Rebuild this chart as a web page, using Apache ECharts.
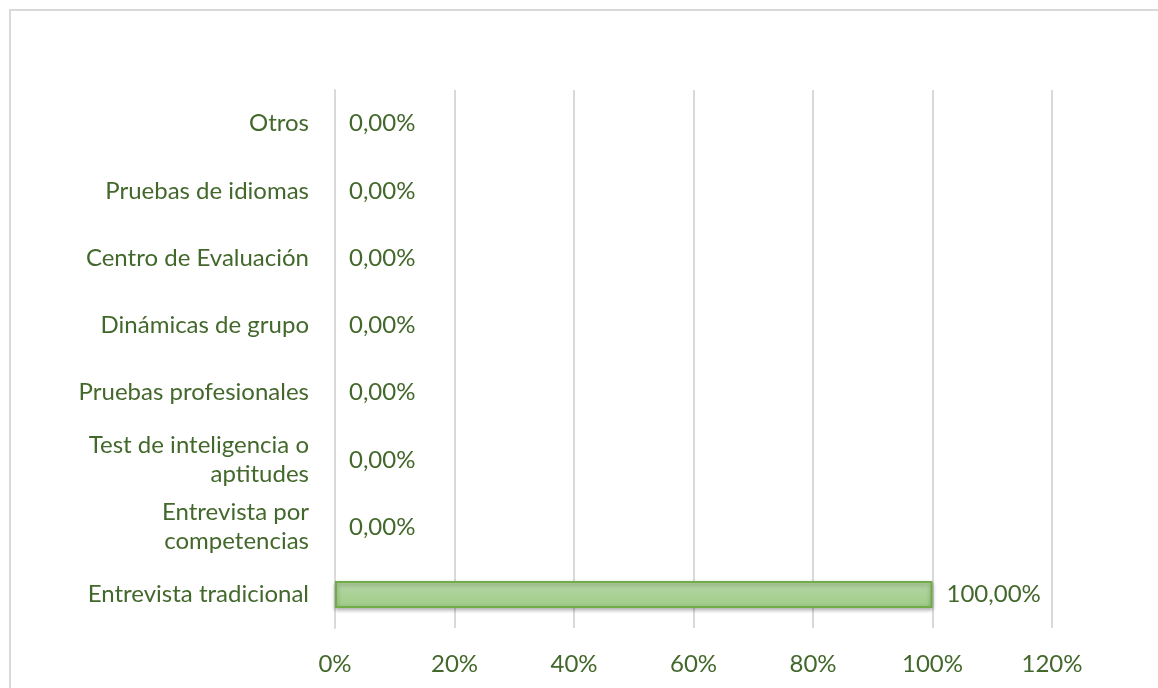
<!DOCTYPE html>
<html><head><meta charset="utf-8">
<script src="https://cdn.jsdelivr.net/npm/echarts@6/dist/echarts.min.js"></script>
<style>html,body{margin:0;padding:0;background:#fff;overflow:hidden}#frame{position:absolute;left:9px;top:9px;width:1300px;height:800px;border:2px solid #d9d9d9;box-sizing:border-box}#c{width:1158px;height:688px;position:absolute;left:0;top:0}</style>
</head><body><div id="frame"></div><div id="c"></div>
<script>
const categories = ['Entrevista tradicional','Entrevista por\ncompetencias','Test de inteligencia o\naptitudes','Pruebas profesionales','Dinámicas de grupo','Centro de Evaluación','Pruebas de idiomas','Otros'];
const values = [100, 0, 0, 0, 0, 0, 0, 0];
const tickLabels = ['0%','20%','40%','60%','80%','100%','120%'];
const txt = '#43682b';
const fam = 'Lato';
const chart = echarts.init(document.getElementById('c'));
chart.setOption({
  animation:false,
  grid:{left:335,right:106,top:90,bottom:60},
  xAxis:{type:'value',min:0,max:120,interval:20,
    axisLabel:{formatter:(v)=>tickLabels[v/20],color:txt,fontFamily:fam,fontSize:24,margin:24},
    splitLine:{lineStyle:{color:'#d9d9d9',width:2}},axisLine:{show:false},axisTick:{show:false}},
  yAxis:{type:'category',data:categories,
    axisLabel:{color:txt,fontFamily:fam,fontSize:24,lineHeight:29,margin:26,align:'right'},
    axisLine:{lineStyle:{color:'#d9d9d9',width:2}},axisTick:{show:false}},
  series:[{type:'bar',barWidth:27,
    data:values.map(v=>({value:v,itemStyle:{borderWidth:v>0?2:0,shadowBlur:v>0?4:0}})),
    itemStyle:{color:new echarts.graphic.LinearGradient(0,0,0,1,[{offset:0,color:'#b7d7a6'},{offset:1,color:'#9fcb87'}]),
      borderColor:'#70ad47',borderWidth:2,shadowColor:'rgba(0,0,0,0.3)',shadowBlur:4,shadowOffsetY:2},
    label:{show:true,position:'right',distance:14,color:txt,fontFamily:fam,fontSize:24,
      formatter:(p)=>p.value.toFixed(2).replace('.',',')+'%'}}]
});
</script></body></html>
